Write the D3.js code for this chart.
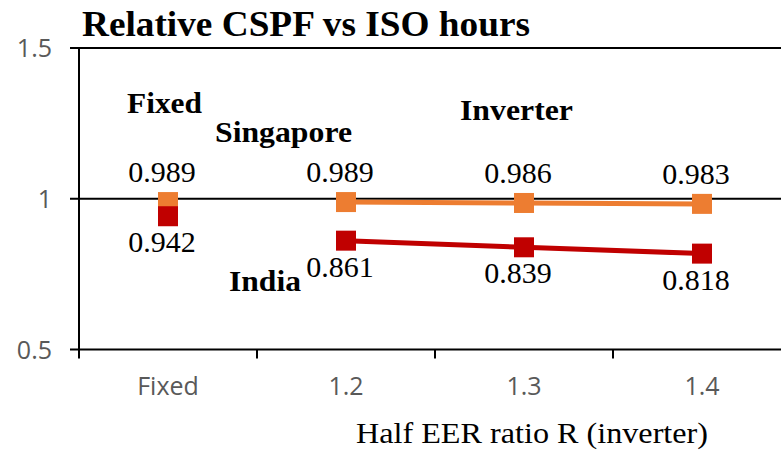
<!DOCTYPE html>
<html>
<head>
<meta charset="utf-8">
<script src="https://cdn.jsdelivr.net/npm/d3@7"></script>
<style>
  html, body { margin: 0; padding: 0; background: #fff; }
  svg { display: block; }
</style>
</head>
<body>
<svg id="chart" width="781" height="453"></svg>
<script>
// ---- data ----
const categories = ["Fixed", "1.2", "1.3", "1.4"];
const singapore = [0.989, 0.989, 0.986, 0.983];
const india = [0.942, 0.861, 0.839, 0.818];
const yTicks = [0.5, 1, 1.5];
const yTickLabels = ["0.5", "1", "1.5"];
const title = "Relative CSPF vs ISO hours";
const xTitle = "Half EER ratio R (inverter)";

const svg = d3.select("#chart");
const W = 781, H = 453;
const left = 79, bandW = 178;

const x = d3.scaleBand().domain(categories).range([left, left + bandW * categories.length]).padding(0);
const y = d3.scaleLinear().domain([0.5, 1.5]).range([349.5, 48]);
const cx = c => x(c) + x.bandwidth() / 2;

const serif = "Liberation Serif";
const sans = "Open Sans";

// gridlines (extend left of the axis)
svg.append("g").selectAll("line").data(yTicks).join("line")
  .attr("x1", 70).attr("x2", W)
  .attr("y1", d => y(d)).attr("y2", d => y(d))
  .attr("stroke", "#000").attr("stroke-width", 2);

// y axis line
svg.append("line").attr("x1", left).attr("x2", left)
  .attr("y1", y(1.5)).attr("y2", y(0.5))
  .attr("stroke", "#000").attr("stroke-width", 2);

// y tick labels
const yAxis = d3.axisLeft(y).tickValues(yTicks).tickSize(0).tickPadding(27)
  .tickFormat((d, i) => yTickLabels[i]);
const gy = svg.append("g").attr("transform", `translate(${left},0)`).call(yAxis);
gy.select(".domain").remove();
gy.selectAll("text").attr("font-family", sans).attr("font-size", 25).attr("fill", "#595959").attr("dy", "0.35em");

// x axis ticks (at band boundaries) + labels
const gx = svg.append("g").attr("transform", `translate(0,${y(0.5)})`);
gx.selectAll("line").data(categories).join("line")
  .attr("x1", d => x(d)).attr("x2", d => x(d))
  .attr("y1", 0).attr("y2", 9)
  .attr("stroke", "#000").attr("stroke-width", 2);
gx.selectAll("text").data(categories).join("text")
  .attr("x", d => cx(d)).attr("y", 45)
  .attr("text-anchor", "middle")
  .attr("font-family", sans).attr("font-size", 25).attr("fill", "#595959")
  .text(d => d);

// series
const series = [
  { name: "Singapore", values: singapore, color: "#ED7D31", labelDy: -20 },
  { name: "India", values: india, color: "#C00000", labelDy: 36 }
];
const line = d3.line().x(d => cx(d.c)).y(d => y(d.v));
series.forEach(s => {
  const pts = categories.map((c, i) => ({ c, v: s.values[i] }));
  svg.append("path").datum(pts.slice(1))
    .attr("d", line).attr("fill", "none")
    .attr("stroke", s.color).attr("stroke-width", 5);
  svg.append("g").selectAll("rect").data(pts).join("rect")
    .attr("x", d => cx(d.c) - 10).attr("y", d => y(d.v) - 10)
    .attr("width", 20).attr("height", 20)
    .attr("fill", s.color);
});
series.forEach(s => {
  const pts = categories.map((c, i) => ({ c, v: s.values[i] }));
  svg.append("g").selectAll("text").data(pts).join("text")
    .attr("x", d => cx(d.c) - 6).attr("y", d => y(d.v) + s.labelDy)
    .attr("text-anchor", "middle")
    .attr("font-family", serif).attr("font-size", 30).attr("fill", "#000")
    .text(d => d.v.toFixed(3));
});

// annotations
const notes = [
  { t: "Fixed", x: 127, y: 113, w: 75 },
  { t: "Singapore", x: 215, y: 142, w: 137 },
  { t: "Inverter", x: 460, y: 120, w: 113 },
  { t: "India", x: 229, y: 291, w: 72 }
];
svg.append("g").selectAll("text").data(notes).join("text")
  .attr("x", d => d.x).attr("y", d => d.y)
  .attr("font-family", serif).attr("font-weight", "bold").attr("font-size", 30)
  .attr("textLength", d => d.w).attr("lengthAdjust", "spacingAndGlyphs")
  .text(d => d.t);

// title
svg.append("text").attr("x", 82).attr("y", 36)
  .attr("font-family", serif).attr("font-weight", "bold").attr("font-size", 36)
  .attr("textLength", 448).attr("lengthAdjust", "spacingAndGlyphs")
  .text(title);

// x axis title
svg.append("text").attr("x", 356).attr("y", 443)
  .attr("font-family", serif).attr("font-size", 29)
  .attr("textLength", 352).attr("lengthAdjust", "spacingAndGlyphs")
  .text(xTitle);
</script>
</body>
</html>
